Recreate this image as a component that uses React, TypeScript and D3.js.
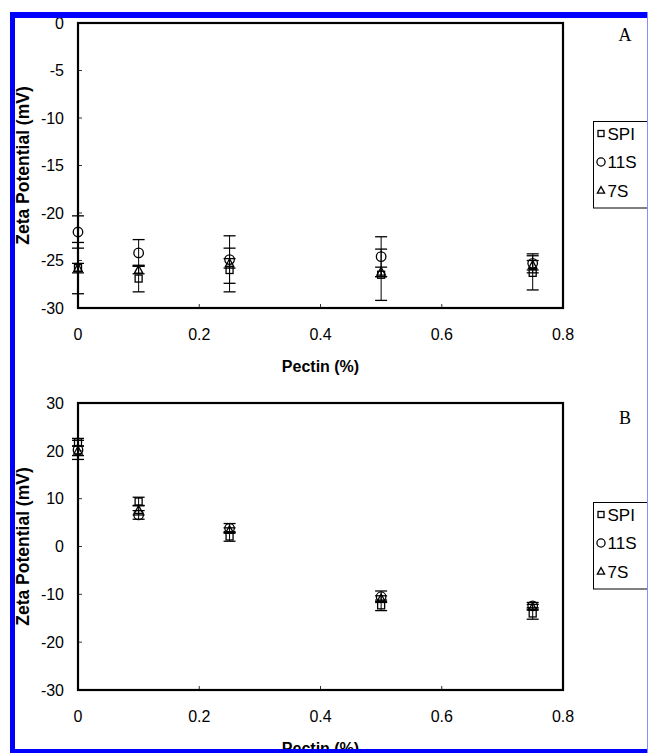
import React from 'react'
import * as d3 from 'd3'

const pectin = [0, 0.1, 0.25, 0.5, 0.75]
const seriesNames = ['SPI', '11S', '7S']
const xTicks = [0, 0.2, 0.4, 0.6, 0.8]

// panel A values, mV
const spiA = [-25.8, -26.9, -26.0, -26.5, -26.3]
const spiAErr = [2.7, 1.4, 2.3, 2.7, 1.8]
const s11A = [-22.0, -24.2, -24.9, -24.6, -25.3]
const s11AErr = [1.7, 1.4, 2.5, 2.1, 1.0]
const s7A = [-25.8, -26.0, -25.3, -26.2, -25.5]
const s7AErr = [0.5, 0.4, 0.5, 0.5, 0.5]
const yTicksA = [0, -5, -10, -15, -20, -25, -30]

// panel B values, mV
const spiB = [21.8, 9.4, 2.1, -12.3, -14.0]
const spiBErr = [0.8, 0.9, 1.0, 1.1, 1.2]
const s11B = [20.2, 6.6, 3.8, -10.5, -12.4]
const s11BErr = [2.0, 0.9, 1.0, 1.2, 0.7]
const s7B = [20.0, 7.6, 3.4, -10.9, -12.7]
const s7BErr = [1.0, 1.0, 0.5, 0.6, 0.6]
const yTicksB = [30, 20, 10, 0, -10, -20, -30]

const font = 'Arial, "Liberation Sans", sans-serif'

type Series = { name: string; values: number[]; errs: number[] }

function Marker({ name, x, y, s }: { name: string; x: number; y: number; s: number }) {
  if (name === 'SPI')
    return <rect x={x - s / 2} y={y - s / 2} width={s} height={s} fill="none" stroke="#000" strokeWidth={1.3} />
  if (name === '11S') return <circle cx={x} cy={y} r={s * 0.68} fill="none" stroke="#000" strokeWidth={1.3} />
  const h = s
  return (
    <path
      d={`M${x},${y - h * 0.65}L${x + h * 0.6},${y + h * 0.45}L${x - h * 0.6},${y + h * 0.45}Z`}
      fill="none"
      stroke="#000"
      strokeWidth={1.3}
    />
  )
}

function Panel({
  top, bottom, domain, yTicks, series, letter, letterY, legendTop,
}: {
  top: number; bottom: number; domain: [number, number]; yTicks: number[]
  series: Series[]; letter: string; letterY: number; legendTop: number
}) {
  const left = 78, right = 563
  const x = d3.scaleLinear().domain([0, 0.8]).range([left, right])
  const y = d3.scaleLinear().domain(domain).range([bottom, top])
  const cap = 6
  return (
    <g>
      {yTicks.map(t => (
        <g key={'y' + t}>
          <line x1={left} x2={left + 4} y1={y(t)} y2={y(t)} stroke="#333" strokeWidth={1} />
          <text x={64} y={y(t)} dy="0.36em" textAnchor="end" fontSize={16} fontFamily={font}>{t}</text>
        </g>
      ))}
      {xTicks.map(t => (
        <g key={'x' + t}>
          <line x1={x(t)} x2={x(t)} y1={bottom} y2={bottom - 4} stroke="#333" strokeWidth={1} />
          <text x={x(t)} y={bottom + 26} dy="0.36em" textAnchor="middle" fontSize={16} fontFamily={font}>{t}</text>
        </g>
      ))}
      <rect x={left} y={top} width={right - left} height={bottom - top} fill="none" stroke="#000" strokeWidth={2.2} />
      {series.map(s => (
        <g key={s.name}>
          {s.values.map((v, i) => {
            const cx = x(pectin[i])
            const y1 = y(v + s.errs[i]), y2 = y(v - s.errs[i])
            return (
              <g key={i}>
                <line x1={cx} x2={cx} y1={y1} y2={y2} stroke="#000" strokeWidth={1} />
                <line x1={cx - cap} x2={cx + cap} y1={y1} y2={y1} stroke="#000" strokeWidth={1.3} />
                <line x1={cx - cap} x2={cx + cap} y1={y2} y2={y2} stroke="#000" strokeWidth={1.3} />
                <Marker name={s.name} x={cx} y={y(v)} s={7} />
              </g>
            )
          })}
        </g>
      ))}
      <text
        transform={`translate(29,${(top + bottom) / 2}) rotate(-90)`}
        textAnchor="middle"
        fontSize={17.5}
        fontWeight="bold"
        fontFamily={font}
      >
        Zeta Potential (mV)
      </text>
      <text x={(left + right) / 2} y={bottom + 58} dy="0.36em" textAnchor="middle" fontSize={16} fontWeight="bold" fontFamily={font}>
        Pectin (%)
      </text>
      <text x={625} y={letterY} textAnchor="middle" fontSize={18} fontFamily='"Liberation Serif", "Times New Roman", serif'>
        {letter}
      </text>
      <rect x={593.5} y={legendTop} width={70} height={86.5} fill="#fff" stroke="#000" strokeWidth={1} />
      {seriesNames.map((n, i) => (
        <g key={n}>
          <Marker name={n} x={601} y={legendTop + 12 + i * 28.5} s={6} />
          <text x={607.5} y={legendTop + 12 + i * 28.5} dy="0.36em" fontSize={17} fontFamily={font}>{n}</text>
        </g>
      ))}
    </g>
  )
}

export default function App() {
  const seriesA: Series[] = [
    { name: 'SPI', values: spiA, errs: spiAErr },
    { name: '11S', values: s11A, errs: s11AErr },
    { name: '7S', values: s7A, errs: s7AErr },
  ]
  const seriesB: Series[] = [
    { name: 'SPI', values: spiB, errs: spiBErr },
    { name: '11S', values: s11B, errs: s11BErr },
    { name: '7S', values: s7B, errs: s7BErr },
  ]
  return (
    <svg width={648} height={753} style={{ position: 'absolute', left: 0, top: 0, background: '#fff' }}>
      <rect x={0} y={0} width={648} height={753} fill="#fff" />
      <Panel top={23} bottom={308} domain={[-30, 0]} yTicks={yTicksA} series={seriesA} letter="A" letterY={41} legendTop={121.5} />
      <Panel top={403} bottom={690} domain={[-30, 30]} yTicks={yTicksB} series={seriesB} letter="B" letterY={424} legendTop={502.5} />
      {/* blue frame around the figure */}
      <rect x={10} y={12} width={638} height={6} fill="#0000ff" />
      <rect x={10} y={12} width={5} height={741} fill="#0000ff" />
      <rect x={10} y={749} width={638} height={4} fill="#0000ff" />
      <line x1={647.5} x2={647.5} y1={12} y2={753} stroke="#8c8cff" strokeWidth={1} />
    </svg>
  )
}
